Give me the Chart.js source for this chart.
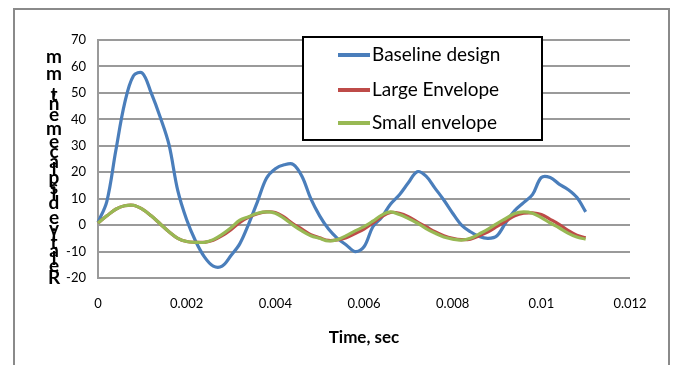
<!DOCTYPE html>
<html>
<head>
<meta charset="utf-8">
<script src="https://cdn.jsdelivr.net/npm/chart.js@4/dist/chart.umd.min.js"></script>
<style>
  html, body { margin: 0; padding: 0; background: #fff; }
  #wrap { width: 673px; height: 365px; }
</style>
</head>
<body>
<div id="wrap"><canvas id="myChart" width="673" height="365"></canvas></div>
<script>
// time samples, sec
const times = [
  0, 0.0002, 0.0004, 0.0006, 0.0008, 0.0010, 0.0012, 0.0014, 0.0016, 0.0018,
  0.0020, 0.0022, 0.0024, 0.0026, 0.0028, 0.0030, 0.0032, 0.0034, 0.0036, 0.0038,
  0.0040, 0.0042, 0.0044, 0.0046, 0.0048, 0.0050, 0.0052, 0.0054, 0.0056, 0.0058,
  0.0060, 0.0062, 0.0064, 0.0066, 0.0068, 0.0070, 0.0072, 0.0074, 0.0076, 0.0078,
  0.0080, 0.0082, 0.0084, 0.0086, 0.0088, 0.0090, 0.0092, 0.0094, 0.0096, 0.0098,
  0.0100, 0.0102, 0.0104, 0.0106, 0.0108, 0.0110
];

const baseline = [
  1, 9, 28, 46, 56.5, 57.5, 50, 41, 30.5, 13,
  2, -6, -12, -15.5, -15.5, -11.5, -7, 0.5, 9, 17.7,
  21.3, 22.8, 23, 18.5, 10, 3.5, -1.5, -5, -7.5, -10,
  -8.2, -0.6, 3, 8, 11.5, 16, 20.2, 18.5, 14, 9.5,
  4.5, 0, -2.5, -4.3, -5, -4, 1, 5.5, 8.5, 11.5,
  18, 18, 15.5, 13.5, 10.5, 5
];

const largeEnvelope = [
  0.8, 3.5, 6, 7.3, 7.5, 6, 3.5, 0.5, -2.5, -5,
  -6.2, -6.5, -6.5, -5.7, -4, -1.7, 1, 3, 4.3, 5,
  4.8, 3, 0.5, -1.5, -3.6, -4.8, -5.8, -5.6, -4.8, -3.2,
  -1.5, 0.8, 3.2, 4.8, 4.5, 3.2, 1.2, -0.6, -2.5, -4,
  -5, -5.5, -5.3, -4, -2.5, -0.5, 1.5, 3.5, 4.5, 4.6,
  4, 2.2, 0.3, -2, -3.8, -4.8
];

const smallEnvelope = [
  0.8, 3.5, 6, 7.3, 7.5, 6, 3.5, 0.5, -2.5, -5,
  -6.2, -6.5, -6.5, -5.5, -3.5, -1, 1.9, 3.2, 4.5, 5,
  4.5, 2.5, 0, -2.2, -4, -5, -6, -5.5, -4, -2.2,
  -0.6, 1.5, 3.8, 5, 4, 2.5, 0.8, -1.3, -3, -4.5,
  -5.3, -5.7, -5, -3.3, -1.5, 0.6, 2.5, 4.4, 5, 4.5,
  2.8, 0.8, -1, -3, -4.5, -5.3
];

const seriesNames = ['Baseline design', 'Large Envelope', 'Small envelope'];
const seriesColors = ['#4a7ebb', '#be4b48', '#98b954'];

const xTitle = 'Time, sec';
const yTitle = 'Relative displacement, mm';

function points(vals) {
  return times.map((t, i) => ({ x: t, y: vals[i] }));
}

const FONT = 'Lato, "Open Sans", sans-serif';

// frame, legend box and the two axis titles, drawn like the original
const decorations = {
  id: 'decorations',
  beforeDraw(chart) {
    const c = chart.ctx;
    c.save();
    c.fillStyle = '#fff';
    c.fillRect(0, 0, chart.width, chart.height);
    c.strokeStyle = '#8a8a8a';
    c.lineWidth = 2;
    c.strokeRect(14, 9, 655, 400);
    c.restore();
  },
  afterDraw(chart) {
    const c = chart.ctx;
    c.save();
    // legend
    c.fillStyle = '#fff';
    c.fillRect(303, 37, 239, 103);
    c.strokeStyle = '#000';
    c.lineWidth = 2;
    c.strokeRect(303, 37, 239, 103);
    const rows = [55, 90, 123];
    chart.data.datasets.forEach((ds, i) => {
      c.strokeStyle = ds.borderColor;
      c.lineWidth = 4;
      c.beginPath();
      c.moveTo(338, rows[i]);
      c.lineTo(370, rows[i]);
      c.stroke();
      c.fillStyle = '#000';
      c.font = '19px ' + FONT;
      c.textBaseline = 'middle';
      c.textAlign = 'left';
      c.fillText(ds.label, 372, rows[i]);
    });
    // x title
    c.font = 'bold 17px ' + FONT;
    c.textAlign = 'center';
    c.textBaseline = 'middle';
    c.fillText(xTitle, 364, 338);
    // y title: rotated text whose glyphs stay upright, reading bottom to top
    c.font = 'bold 19px ' + FONT;
    const chars = yTitle.split('');
    const widths = chars.map(ch => c.measureText(ch).width);
    const centers = [];
    let acc = 0;
    widths.forEach(w => { centers.push(acc + w / 2); acc += w; });
    const first = centers[0], last = centers[centers.length - 1];
    const yBottom = 278, yTop = 57;
    const k = (yBottom - yTop) / (last - first);
    chars.forEach((ch, i) => {
      c.fillText(ch, 54, yBottom - (centers[i] - first) * k);
    });
    c.restore();
  }
};

const ctx = document.getElementById('myChart').getContext('2d');
const myChart = new Chart(ctx, {
  type: 'line',
  data: {
    datasets: [
      { label: seriesNames[0], data: points(baseline), borderColor: seriesColors[0], order: 3 },
      { label: seriesNames[1], data: points(largeEnvelope), borderColor: seriesColors[1], order: 2 },
      { label: seriesNames[2], data: points(smallEnvelope), borderColor: seriesColors[2], order: 1 }
    ].map(d => Object.assign(d, {
      borderWidth: 3.2,
      pointRadius: 0,
      tension: 0.35,
      fill: false,
      clip: 4
    }))
  },
  options: {
    responsive: false,
    animation: false,
    layout: { padding: { left: 0, right: 43, top: 40, bottom: 0 } },
    plugins: {
      legend: { display: false },
      tooltip: { enabled: false }
    },
    scales: {
      x: {
        type: 'linear',
        min: 0,
        max: 0.012,
        ticks: {
          stepSize: 0.002,
          padding: 18,
          color: '#000',
          font: { family: FONT, size: 13 },
          callback: v => String(Number(v.toFixed(3)))
        },
        grid: { display: false, drawTicks: false },
        border: { display: false },
        afterFit: s => { s.height = 87; }
      },
      y: {
        min: -20,
        max: 70,
        ticks: {
          stepSize: 10,
          padding: 12,
          color: '#000',
          font: { family: FONT, size: 13 }
        },
        grid: { color: '#9a9a9a', lineWidth: 2, drawTicks: false },
        border: { color: '#9a9a9a', width: 2 },
        afterFit: s => { s.width = 98; }
      }
    }
  },
  plugins: [decorations]
});
</script>
</body>
</html>
